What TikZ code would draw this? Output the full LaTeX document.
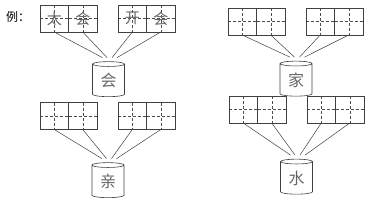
\documentclass[tikz,border=0pt]{standalone}
\usepackage{fontspec}
\newfontfamily\cjk{Noto Sans CJK SC}
\usetikzlibrary{positioning, shapes.geometric}
\tikzset{
  cell/.style={draw=black!75, line width=0.6pt, minimum width=28.5pt, minimum height=27pt,
    inner sep=0pt, outer sep=0pt, font=\cjk\fontsize{15}{15}\selectfont, text=black!60,
    path picture={\draw[black!70, line width=0.5pt, dash pattern=on 3pt off 2pt]
      (path picture bounding box.north) -- (path picture bounding box.south)
      (path picture bounding box.west) -- (path picture bounding box.east);}},
  jar/.style={cylinder, draw=black!75, line width=0.6pt, shape border rotate=90, aspect=0.3,
    minimum height=35pt, minimum width=32pt, inner sep=0pt, outer sep=0pt,
    font=\cjk\fontsize{16}{16}\selectfont, text=black!60},
  link/.style={draw=black!75, line width=0.5pt}
}
\begin{document}
\begin{tikzpicture}[x=1pt, y=-1pt]
    \useasboundingbox (0,0) rectangle (369,202);

    % Example label
    \node[anchor=west, inner sep=0pt, font=\cjk\fontsize{12}{12}\selectfont] (ex) at (6,17) {例：};

    % Top left group
    \node[cell] (a1) at (54.25,18.5) {太};
    \node[cell, right=0pt of a1] (a2) {会};
    \node[cell] (a3) at (132.25,18.5) {开};
    \node[cell, right=0pt of a3] (a4) {会};
    \node[jar] (jarA) at (108.5,80.5) {会};

    % Top right group
    \node[cell] (b1) at (242.25,21.5) {};
    \node[cell, right=0pt of b1] (b2) {};
    \node[cell] (b3) at (320.25,21.5) {};
    \node[cell, right=0pt of b3] (b4) {};
    \node[jar] (jarB) at (296,80) {家};

    % Bottom left group
    \node[cell] (c1) at (54.25,116) {};
    \node[cell, right=0pt of c1] (c2) {};
    \node[cell] (c3) at (132.25,116) {};
    \node[cell, right=0pt of c3] (c4) {};
    \node[jar] (jarC) at (108,181.5) {亲};

    % Bottom right group
    \node[cell] (d1) at (243.25,109.5) {};
    \node[cell, right=0pt of d1] (d2) {};
    \node[cell] (d3) at (321.25,109.5) {};
    \node[cell, right=0pt of d3] (d4) {};
    \node[jar] (jarD) at (296.5,178) {水};

    % Lines into the jars
    \foreach \g/\j in {a/jarA, b/jarB, c/jarC, d/jarD} {
        \draw[link] (\g1.south) -- ([xshift=-6pt, yshift=4pt]\j.north);
        \draw[link] (\g2.south) -- ([xshift=-1.5pt, yshift=4pt]\j.north);
        \draw[link] (\g3.south) -- ([xshift=3.5pt, yshift=4pt]\j.north);
        \draw[link] (\g4.south) -- ([xshift=8.5pt, yshift=4pt]\j.north);
    }
\end{tikzpicture}
\end{document}
